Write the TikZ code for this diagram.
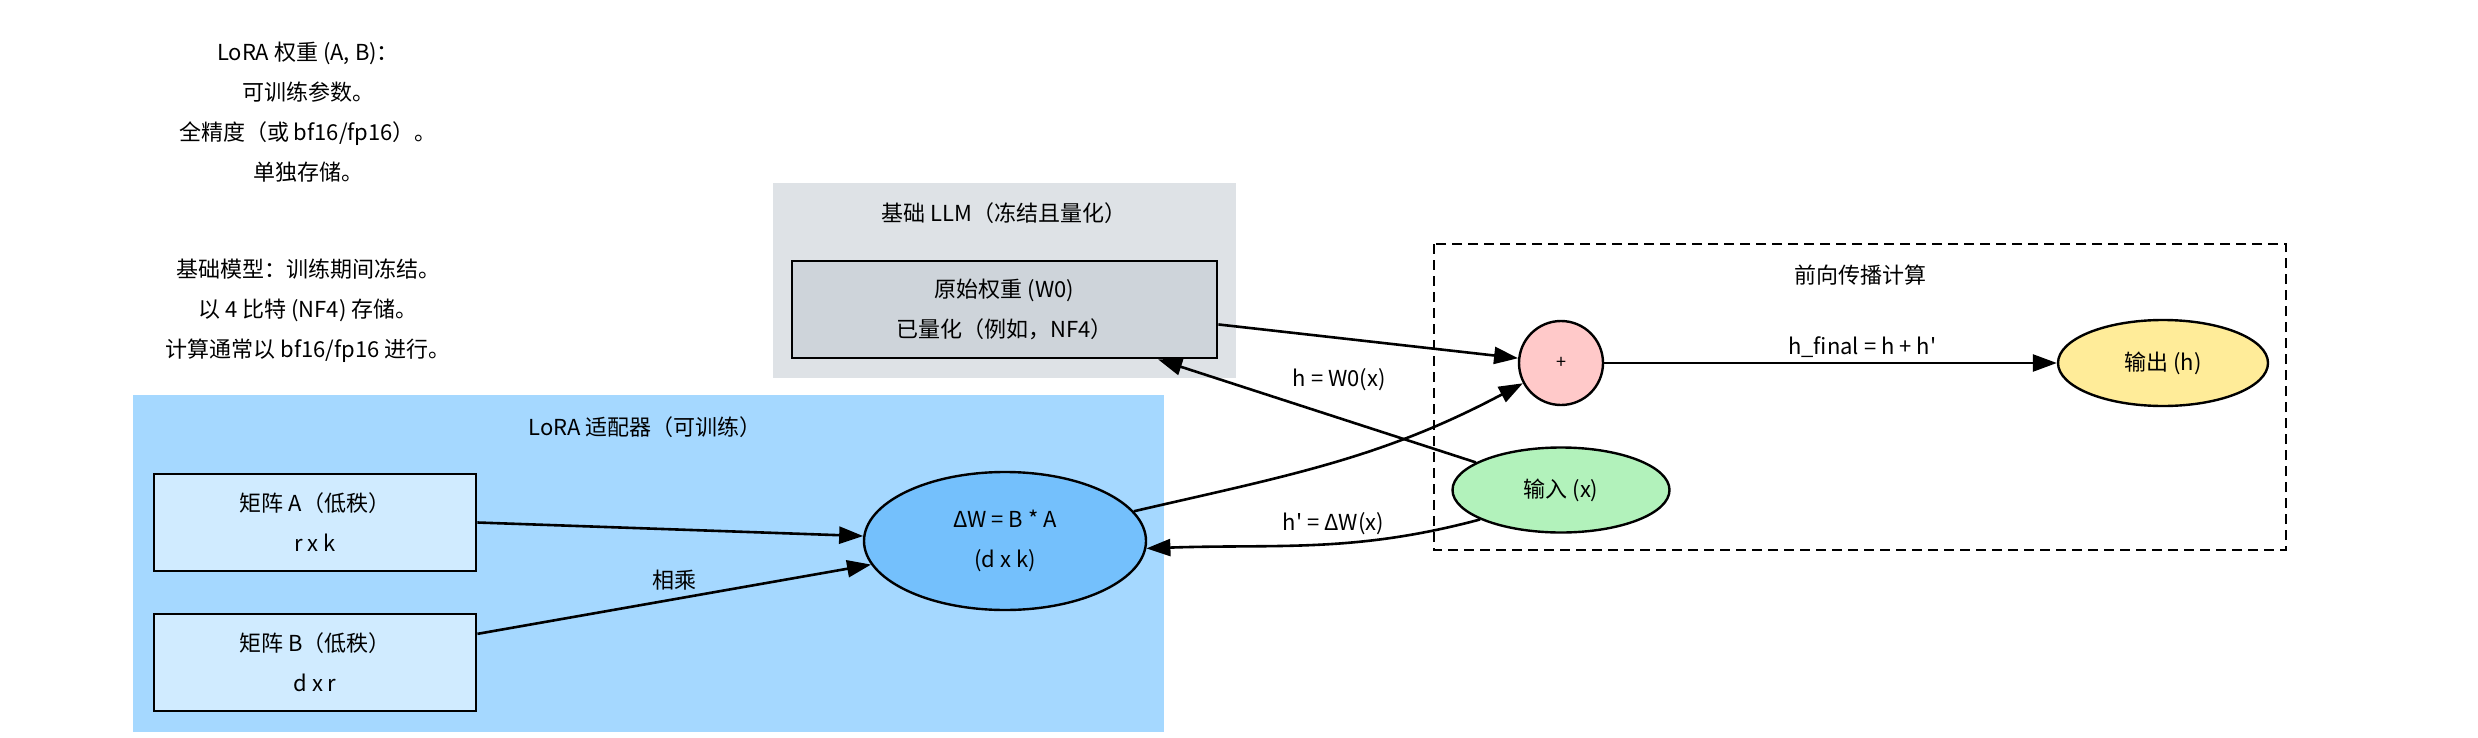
\documentclass[tikz,border=0pt]{standalone}
\usepackage{fontspec}
\setmainfont{Noto Sans CJK SC}
\usetikzlibrary{arrows.meta,shapes.geometric}
\definecolor{loraPanel}{HTML}{A5D8FF}
\definecolor{loraMatrix}{HTML}{D0EBFF}
\definecolor{loraDelta}{HTML}{74C0FC}
\definecolor{basePanel}{HTML}{DEE2E6}
\definecolor{baseWeight}{HTML}{CED4DA}
\definecolor{fwdAdd}{HTML}{FFC9C9}
\definecolor{fwdIn}{HTML}{B2F2BB}
\definecolor{fwdOut}{HTML}{FFEC99}
\newcommand\lorafont{\fontsize{11}{20}\selectfont}
\tikzset{
  lora note/.style={font=\lorafont, align=center, inner sep=0pt},
  lora title/.style={font=\lorafont, inner sep=0pt},
  lora box/.style={rectangle, draw=black, line width=1.4pt, minimum width=161pt, minimum height=48.5pt, align=center, font=\lorafont},
  lora oval/.style={ellipse, draw=black, line width=1.2pt, inner sep=0pt, align=center, font=\lorafont},
  lora edge/.style={draw=black, line width=1.3pt, -{Triangle[length=12pt,width=8.5pt]}},
  lora edge label/.style={font=\fontsize{11}{13}\selectfont, inner sep=2pt},
}

\begin{document}
\begin{tikzpicture}[x=0.5pt, y=-0.5pt]
  \useasboundingbox (0,0) rectangle (2478,738);

  % Notes, top left
  \node[lora note] (noteLora) at (308,112) {LoRA 权重 (A, B)：\\可训练参数。\\全精度（或 bf16/fp16）。\\单独存储。};
  \node[lora note] (noteBase) at (308,311) {基础模型：训练期间冻结。\\以 4 比特 (NF4) 存储。\\计算通常以 bf16/fp16 进行。};

  % Base LLM panel
  \fill[basePanel] (773,183) rectangle (1236,378);
  \node[lora title] (baseTitle) at (1004,213) {基础 LLM（冻结且量化）};
  \node[lora box, fill=baseWeight, minimum width=212.5pt] (w0) at (1004.5,309.5) {原始权重 (W0)\\已量化（例如，NF4）};

  % LoRA adapter panel
  \fill[loraPanel] (133,395) rectangle (1164,732);
  \node[lora title] (loraTitle) at (645,427) {LoRA 适配器（可训练）};
  \node[lora box, fill=loraMatrix] (mA) at (315,522.5) {矩阵 A（低秩）\\r x k};
  \node[lora box, fill=loraMatrix] (mB) at (315,662.5) {矩阵 B（低秩）\\d x r};
  \node[lora oval, fill=loraDelta, minimum width=141pt, minimum height=69pt] (dW) at (1005,541) {ΔW = B * A\\(d x k)};

  % Forward pass panel
  \draw[black, line width=1.2pt, dash pattern=on 5pt off 3pt] (1434,244) rectangle (2286,550);
  \node[lora title] (fwdTitle) at (1860,275) {前向传播计算};
  \node[circle, draw=black, line width=1.2pt, fill=fwdAdd, minimum size=42pt, inner sep=0pt, font=\fontsize{9}{11}\selectfont] (plus) at (1561,363) {+};
  \node[lora oval, fill=fwdOut, minimum width=105pt, minimum height=43pt] (out) at (2163,363) {输出 (h)};
  \node[lora oval, fill=fwdIn, minimum width=108.5pt, minimum height=42.5pt] (inp) at (1561,490) {输入 (x)};

  % Connectors
  \draw[lora edge] (mA.east) -- (dW);
  \draw[lora edge] (mB.10) -- node[lora edge label, midway, above=2pt] {相乘} (dW);
  \draw[lora edge] (w0.-4) -- (plus);
  \draw[lora edge] (inp) -- node[lora edge label, pos=0.43, above=11pt] {h = W0(x)} (w0.-18.4);
  \draw[lora edge] (inp.200) to[out=195, in=2] node[lora edge label, pos=0.44, above=2pt] {h\textquotesingle{} = ΔW(x)} (dW.-3);
  \draw[lora edge] (dW.13) to[out=13, in=208] (plus.208);
  \draw[lora edge] (plus) -- node[lora edge label, pos=0.57, above] {h\_final = h + h\textquotesingle} (out);
\end{tikzpicture}
\end{document}
